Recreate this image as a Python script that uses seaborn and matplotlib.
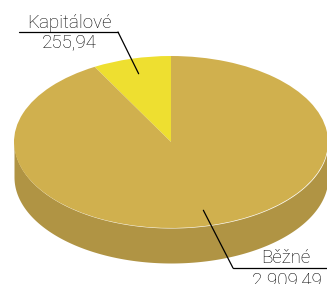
import numpy as np
import matplotlib
matplotlib.use("Agg")
import matplotlib.pyplot as plt
import seaborn as sns

# data
categories = ["Kapitálové", "Běžné"]
values = [255.94, 2909.49]
value_labels = ["255,94", "2 909,49"]

sns.set_theme(style="white")
plt.rcParams["font.family"] = ["Roboto", "DejaVu Sans"]

top_colors = ["#EEDF30", "#D0B04E"]
side_colors = ["#C8BA2C", "#B09444"]

W, H = 327, 284
fig = plt.figure(figsize=(W / 100, H / 100), dpi=100)
ax = fig.add_axes([0, 0, 1, 1])

# pie geometry in pixels (center, semi axes, depth)
cx, cy, a, b, depth_px = 171, 142, 157, 86, 35
depth = depth_px / b

def px(x, y):
    # pixel (from top-left) -> figure fraction
    return x / W, 1 - y / H

fracs = np.array(values) / sum(values)
starts = 90 + 360 * np.concatenate([[0], np.cumsum(fracs)[:-1]])
ends = starts + 360 * fracs

# side of the disc (front half only)
for s, e, col in zip(starts, ends, side_colors):
    for lo, hi in [(180, 360), (540, 720)]:
        t0, t1 = max(s, lo), min(e, hi)
        if t1 <= t0:
            continue
        t = np.radians(np.linspace(t0, t1, 200))
        x, y = np.cos(t), np.sin(t)
        ax.fill_between(x, y - depth, y, color=col, lw=0, zorder=1)

ax.pie(values, colors=top_colors, startangle=90, counterclock=True,
       radius=1, wedgeprops=dict(linewidth=0, zorder=2))
ax.set_aspect("auto")
ax.set_xlim(-cx / a, (W - cx) / a)
ax.set_ylim(-(H - cy) / b, cy / b)
ax.axis("off")

# labels with leader lines
mids = np.radians((starts + ends) / 2)
elbows = [(118, 32), (233, 268)]
line_ends = [19, 327]
name_pos = [(69, 28), (286, 263)]
val_pos = [(69, 33), (287, 271)]
for i in range(len(values)):
    ax_pt = (0.82 * np.cos(mids[i]), 0.82 * np.sin(mids[i]))
    ex, ey = elbows[i]
    ax.annotate("", xy=ax_pt, xycoords="data",
                xytext=px(ex, ey), textcoords="figure fraction",
                arrowprops=dict(arrowstyle="-", color="black", lw=0.9,
                                shrinkA=0, shrinkB=0), zorder=5)
    fig.add_artist(plt.Line2D([ex / W, line_ends[i] / W], [1 - ey / H, 1 - ey / H],
                              transform=fig.transFigure, color="black", lw=0.9))
    fig.text(*px(*name_pos[i]), categories[i], ha="center", va="baseline",
             fontsize=13.5, fontweight="light", color="black")
    fig.text(*px(*val_pos[i]), value_labels[i], ha="center", va="top",
             fontsize=13.5, fontweight="light", color="black")

fig.savefig("out.png", dpi=100)
